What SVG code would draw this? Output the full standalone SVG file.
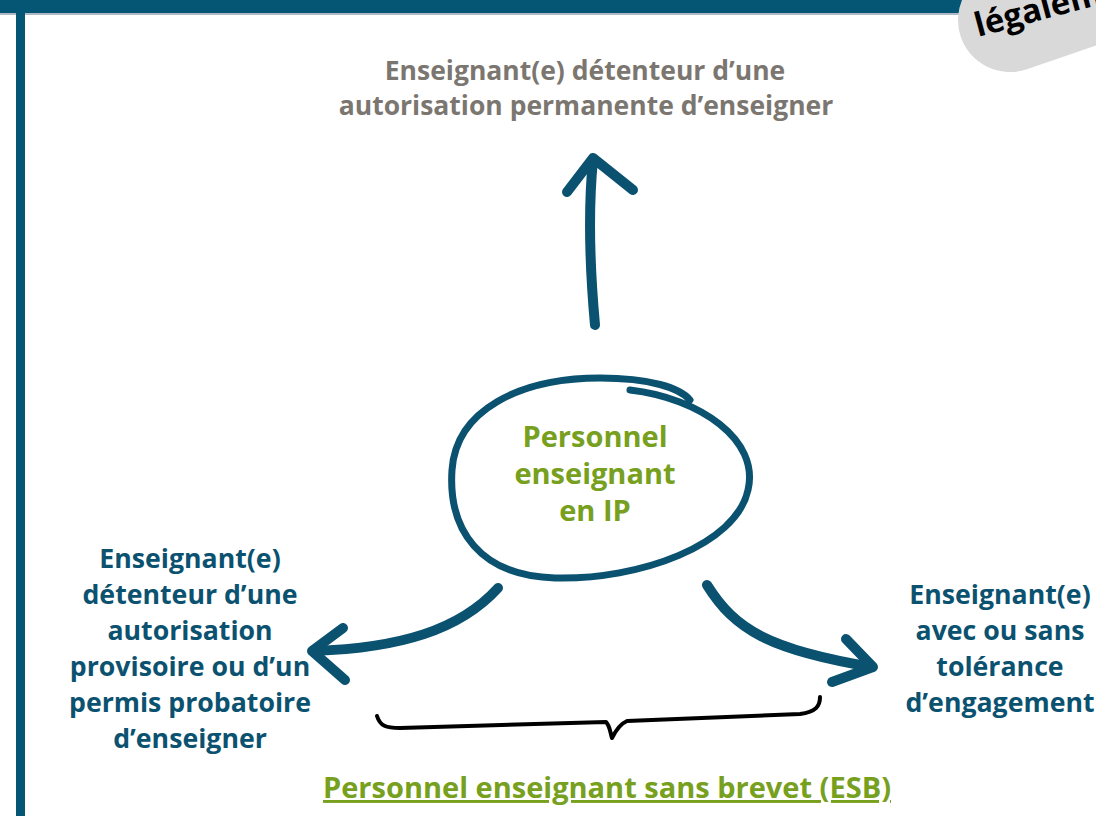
<svg xmlns="http://www.w3.org/2000/svg" width="1096" height="816" viewBox="0 0 1096 816">
<style>
text{font-family:"Open Sans","Noto Sans","Liberation Sans",sans-serif;font-weight:700;text-anchor:middle}
.gray{fill:#7b7670;font-size:26.5px}
.green{fill:#76a01d;font-size:29px}
.teal{fill:#0b5270;font-size:26.7px}
.arrow{fill:none;stroke:#0b5270;stroke-width:10;stroke-linecap:round;stroke-linejoin:round}
</style>
<rect width="1096" height="816" fill="#ffffff"/>
<g id="frame">
<rect x="0" y="0" width="1096" height="13" fill="#045674"/>
<rect x="0" y="13" width="1096" height="2" fill="#7a8aa0" opacity="0.6"/>
<rect x="16" y="0" width="9" height="816" fill="#045674"/>
</g>
<g id="badge">
<rect x="958" y="-32" width="240" height="104" rx="52" fill="#d9d9d9" transform="rotate(-19 1010 20)"/>
<text transform="translate(978,37) rotate(-15)" style="font-size:33px;fill:#000;text-anchor:start">légalement</text>
</g>
<g id="top-node">
<text class="gray" x="585" y="80">Enseignant(e) détenteur d’une</text>
<text class="gray" x="586" y="115">autorisation permanente d’enseigner</text>
</g>
<g id="center-node">
<path d="M630,390 C700,398 760,440 748,490 C736,545 640,580 555,578 C480,576 448,530 452,470 C456,410 520,378 600,378 C650,378 680,388 690,400" fill="none" stroke="#0b5270" stroke-width="7" stroke-linecap="round"/>
<text class="green" x="595" y="447">Personnel</text>
<text class="green" x="595" y="484">enseignant</text>
<text class="green" x="595" y="521">en IP</text>
</g>
<g id="left-node">
<text class="teal" x="190" y="568">Enseignant(e)</text>
<text class="teal" x="190" y="604">détenteur d’une</text>
<text class="teal" x="190" y="640">autorisation</text>
<text class="teal" x="190" y="676">provisoire ou d’un</text>
<text class="teal" x="190" y="712">permis probatoire</text>
<text class="teal" x="190" y="748">d’enseigner</text>
</g>
<g id="right-node">
<text class="teal" x="1000" y="604">Enseignant(e)</text>
<text class="teal" x="1000" y="640">avec ou sans</text>
<text class="teal" x="1000" y="676">tolérance</text>
<text class="teal" x="1000" y="712">d’engagement</text>
</g>
<g id="bottom-node">
<text class="green" x="607" y="798" style="text-decoration:underline">Personnel enseignant sans brevet (ESB)</text>
</g>
<g id="connectors">
<path class="arrow" d="M595,325 C590,270 588,210 593,160"/>
<path class="arrow" d="M567,192 L593,158 L633,190"/>
<path class="arrow" d="M498,588 C460,630 400,648 314,651"/>
<path class="arrow" d="M343,628 L312,651 L345,680"/>
<path class="arrow" d="M707,585 C735,630 770,650 872,667"/>
<path class="arrow" d="M846,639 L873,667 L832,682"/>
<path d="M377,716 C380,726 386,728 400,728 L606,722 C610,726 610,732 612,738 C616,730 620,724 627,721 L800,714 C816,712 820,706 820,697" fill="none" stroke="#000" stroke-width="4" stroke-linecap="round" stroke-linejoin="round"/>
</g>
</svg>
